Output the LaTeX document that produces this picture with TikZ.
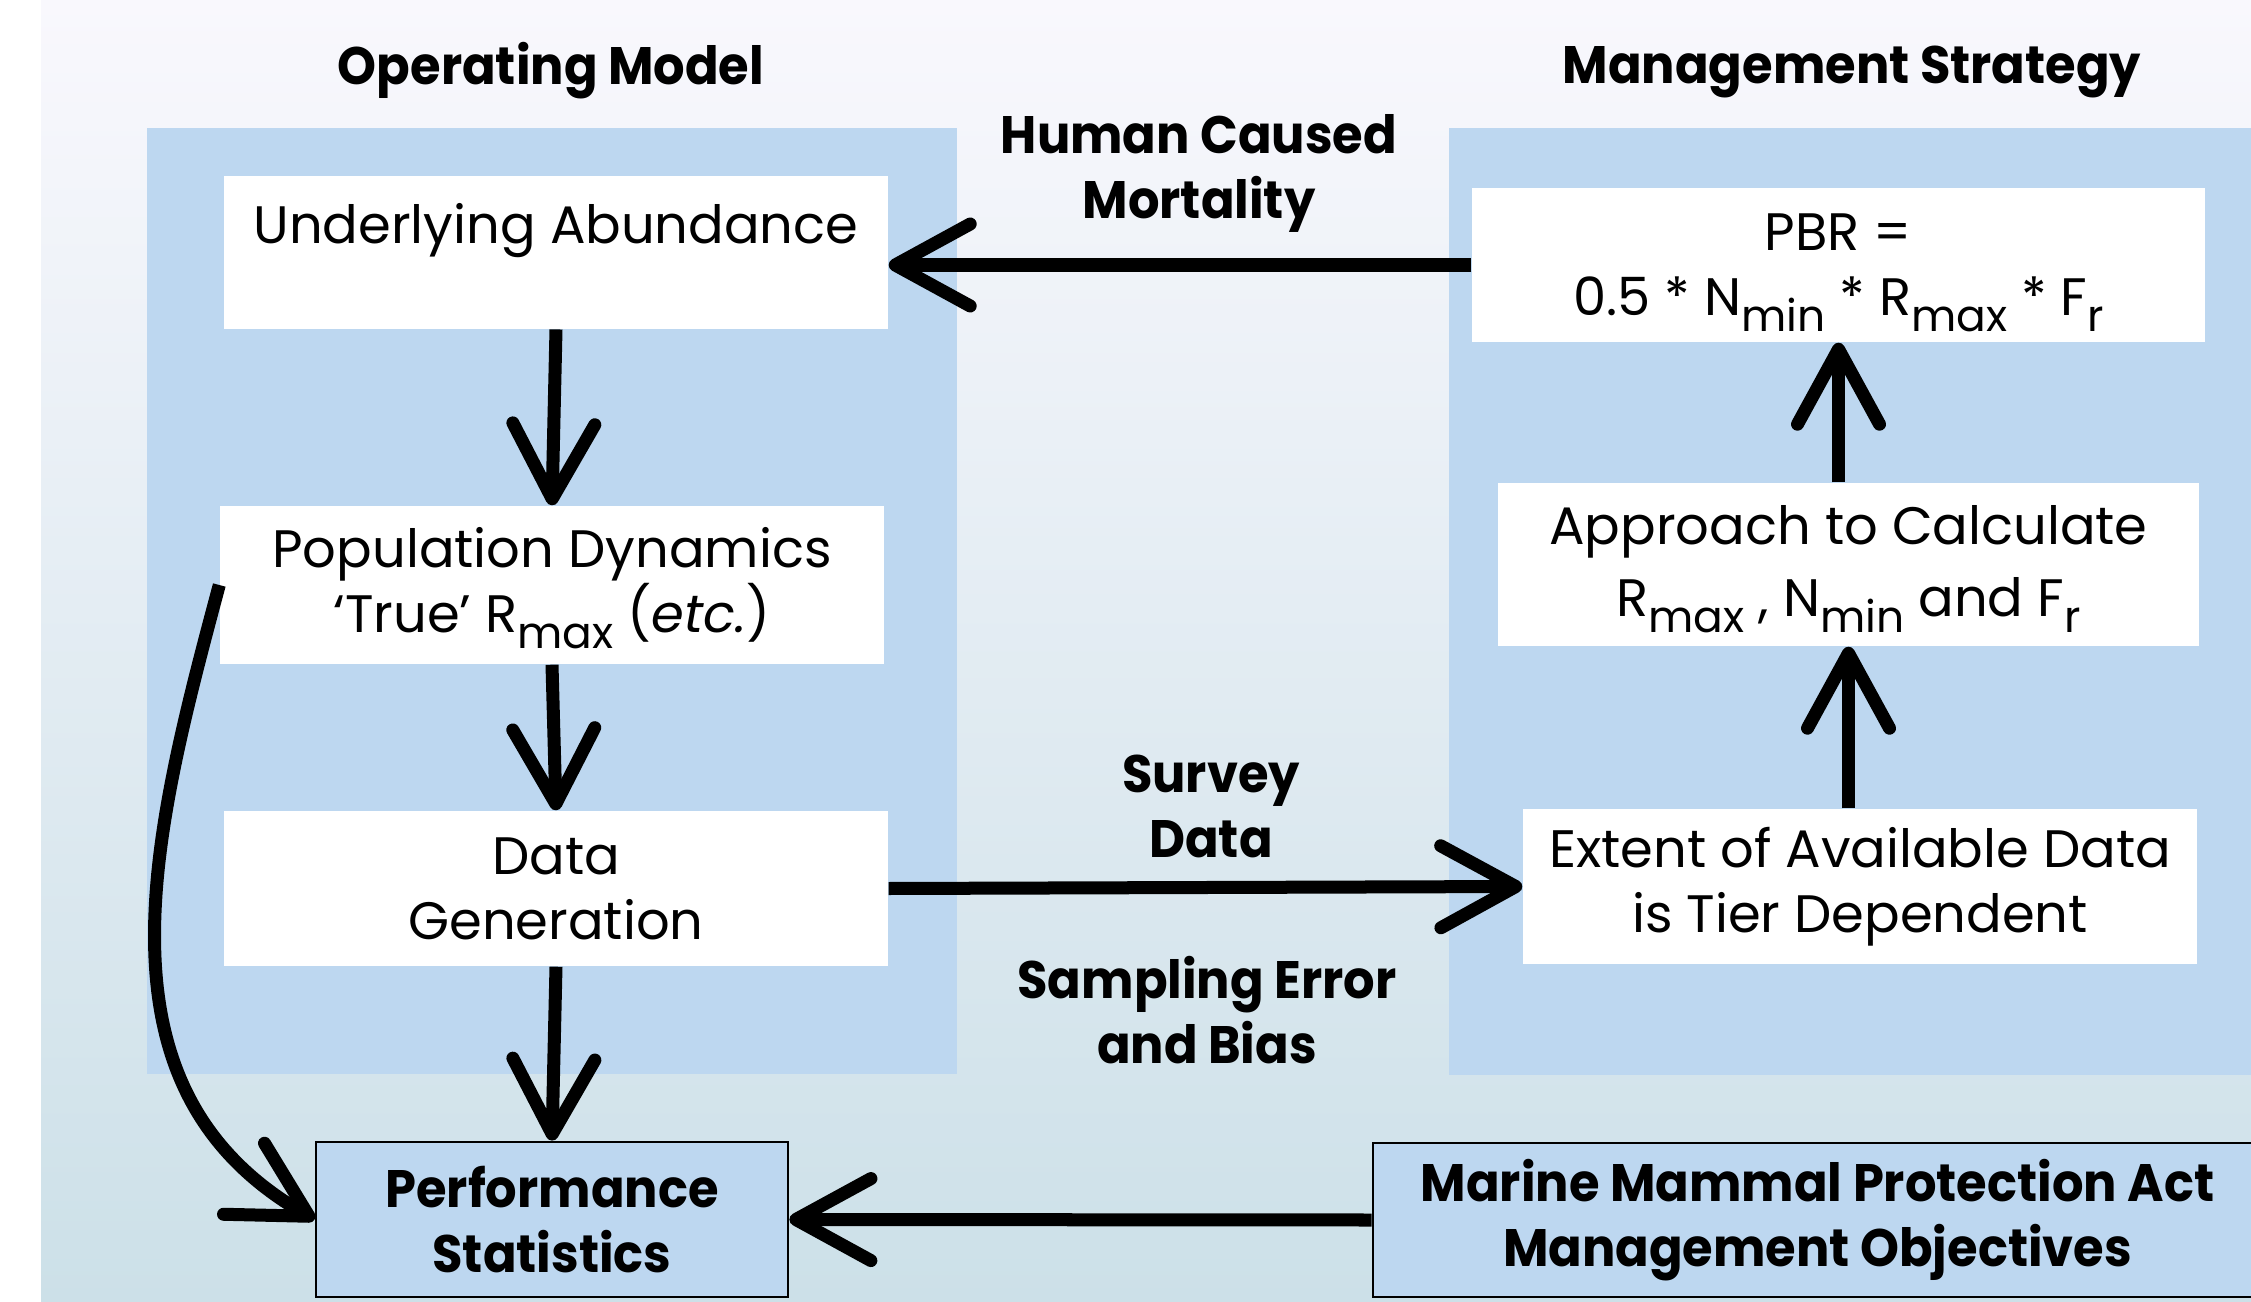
\documentclass[tikz,border=0pt]{standalone}
\usepackage{fontspec}
\setmainfont{Poppins}[BoldFeatures={FakeStretch=0.94}]
\usetikzlibrary{arrows.meta}
\definecolor{panel}{RGB}{189,215,240}
\definecolor{bgtop}{RGB}{249,248,253}
\definecolor{bgmid}{RGB}{243,247,249}
\definecolor{bgbot}{RGB}{204,224,232}
\newcommand{\lowsub}[1]{\raisebox{-0.3em}[0pt][0pt]{\fontsize{12.5}{12.5}\selectfont #1}}
\tikzset{
	box/.style={fill=white,align=center,inner sep=0pt,font=\fontsize{15}{18.5}\selectfont},
	goalbox/.style={fill=panel,draw=black,line width=0.8pt,align=center,inner sep=0pt,font=\fontsize{15}{18.5}\selectfont\bfseries},
	lab/.style={align=center,inner sep=0pt,font=\fontsize{15}{18.5}\selectfont\bfseries},
	arr/.style={line width=3.7pt,-{Straight Barb[length=7.5mm,width=8.2mm,round]}}
}

\begin{document}
\begin{tikzpicture}
	\useasboundingbox (0,0) rectangle (22.51,-13.02);
	\fill[white] (0,0) rectangle (22.51,-13.02);
	\shade[top color=bgtop,middle color=bgmid,bottom color=bgbot] (0.41,0) rectangle (22.51,-13.02);
	\fill[panel] (1.47,-1.28) rectangle (9.57,-10.74);
	\fill[panel] (14.49,-1.28) rectangle (22.6,-10.75);

	\node[lab,anchor=base] (opm) at (5.51,-0.85) {Operating Model};
	\node[lab,anchor=base] (mgs) at (18.52,-0.84) {Management Strategy};

	% operating model
	\node[box,anchor=north,minimum width=6.64cm,text height=0.68cm,text depth=0.85cm] (abund) at (5.56,-1.75) {Underlying Abundance};
	\node[box,minimum width=6.64cm,minimum height=1.58cm] (popdyn) at (5.52,-5.85) {Population Dynamics\\‘True’ R\lowsub{max} (\textit{etc.})};
	\node[box,minimum width=6.64cm,minimum height=1.55cm] (datagen) at (5.56,-8.885) {Data\\Generation};
	\node[goalbox,minimum width=4.72cm,minimum height=1.55cm] (perf) at (5.52,-12.195) {Performance\\Statistics};

	% management strategy
	\node[box,minimum width=7.33cm,minimum height=1.54cm] (pbr) at (18.385,-2.65) {PBR =\\0.5 * N\lowsub{min} * R\lowsub{max} * F\lowsub{r}};
	\node[box,minimum width=7.01cm,minimum height=1.63cm] (appr) at (18.485,-5.645) {Approach to Calculate\\[2pt]R\lowsub{max} , N\lowsub{min} and F\lowsub{r}};
	\node[box,minimum width=6.74cm,minimum height=1.55cm] (ext) at (18.60,-8.865) {Extent of Available Data\\is Tier Dependent};
	\node[goalbox,minimum width=8.89cm,minimum height=1.54cm] (mmpa) at (18.175,-12.20) {Marine Mammal Protection Act\\Management Objectives};

	% labels between the panels
	\node[lab] (hcm) at (11.99,-1.73) {Human Caused\\Mortality};
	\node[lab] (svy) at (12.11,-8.06) {Survey\\Data};
	\node[lab] (err) at (12.07,-10.10) {Sampling Error\\and Bias};

	\draw[arr] (abund.south) -- (popdyn.north);
	\draw[arr] (popdyn.south) -- (datagen.north);
	\draw[arr] (datagen.south) -- (perf.north);
	\draw[arr] (popdyn.west) to[out=255,in=150,looseness=1.05] (perf.west);
	\draw[arr] (pbr.west) -- (abund.east |- pbr.west);
	\draw[arr] (pbr.south |- appr.north) -- (pbr.south);
	\draw[arr] (appr.south |- ext.north) -- (appr.south);
	\draw[arr] (datagen.east) -- (ext.west);
	\draw[arr] (mmpa.west) -- (perf.east);
\end{tikzpicture}
\end{document}
